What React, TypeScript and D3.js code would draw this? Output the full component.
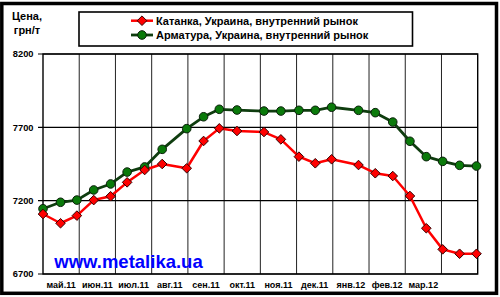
import React from "react";
import * as d3 from "d3";

const dates = [
  "2011-05-01", "2011-05-16", "2011-05-30", "2011-06-13", "2011-06-27",
  "2011-07-11", "2011-07-26", "2011-08-10", "2011-08-31", "2011-09-14",
  "2011-09-27", "2011-10-12", "2011-11-04", "2011-11-18", "2011-12-03",
  "2011-12-17", "2011-12-31", "2012-01-23", "2012-02-06", "2012-02-20",
  "2012-03-05", "2012-03-19", "2012-04-02", "2012-04-16", "2012-04-30",
];

const katanka = [
  7109, 7046, 7098, 7204, 7230, 7325, 7409, 7450, 7421, 7607, 7693, 7675, 7668,
  7618, 7500, 7455, 7482, 7443, 7387, 7368, 7232, 7012, 6868, 6838, 6838,
];

const armatura = [
  7145, 7189, 7204, 7273, 7314, 7395, 7430, 7550, 7691, 7772, 7823, 7818, 7811,
  7811, 7816, 7816, 7837, 7816, 7800, 7736, 7605, 7500, 7468, 7441, 7436,
];

const monthLabels = [
  "май.11", "июн.11", "июл.11", "авг.11", "сен.11", "окт.11",
  "ноя.11", "дек.11", "янв.12", "фев.12", "мар.12", "",
];

const yTicks = [6700, 7200, 7700, 8200];

const seriesNames = [
  "Катанка, Украина, внутренний рынок",
  "Арматура, Украина, внутренний рынок",
];

function monthPos(s: string): number {
  const [y, m, d] = s.split("-").map(Number);
  const dim = new Date(y, m, 0).getDate();
  return (y - 2011) * 12 + (m - 5) + (d - 1) / dim;
}

export default function App() {
  const W = 500, H = 297;
  const left = 43, right = 477.7, top = 54, bottom = 274;
  const x = d3.scaleLinear().domain([0, 12]).range([left, right]);
  const y = d3.scaleLinear().domain([6700, 8200]).range([bottom, top]);
  const xs = dates.map(monthPos);

  const line = d3
    .line<number>()
    .x((_, i) => x(xs[i]))
    .y((v) => y(v));

  const font = "Arial, 'Liberation Sans', sans-serif";
  const redLine = "#ff0000";
  const greenLine = "#0f3d0f";
  const greenFill = "#0a7a0a";

  const diamond = (cx: number, cy: number, r: number) =>
    `M${cx},${cy - r}L${cx + r},${cy}L${cx},${cy + r}L${cx - r},${cy}Z`;

  return (
    <svg
      width={W}
      height={H}
      style={{ position: "absolute", left: 0, top: 0, background: "#fff" }}
      fontFamily={font}
    >
      <rect x={0} y={0} width={W} height={H} fill="#fff" />
      {/* outer frame */}
      <rect x={1.8} y={3.5} width={494.7} height={289.8} fill="none" stroke="#000" strokeWidth={3.5} />

      {/* plot grid */}
      {d3.range(1, 12).map((i) => (
        <line key={"v" + i} x1={x(i)} x2={x(i)} y1={top} y2={bottom} stroke="#222" strokeWidth={1} />
      ))}
      {yTicks.map((t) => (
        <line key={"h" + t} x1={left - 5} x2={right} y1={y(t)} y2={y(t)} stroke="#000" strokeWidth={1.2} />
      ))}
      <rect x={left} y={top} width={right - left} height={bottom - top} fill="none" stroke="#000" strokeWidth={1.4} />

      {/* y labels */}
      {yTicks.map((t) => (
        <text key={"yl" + t} x={33.5} y={y(t)} dy="0.35em" textAnchor="end" fontSize={9.3} fontWeight="bold" fill="#000">
          {t}
        </text>
      ))}
      <text x={27} y={19.5} textAnchor="middle" fontSize={11} fontWeight="bold">Цена,</text>
      <text x={27} y={34} textAnchor="middle" fontSize={11} fontWeight="bold">грн/т</text>

      {/* x labels */}
      {monthLabels.map((m, i) => (
        <text key={"xl" + i} x={x(i + 0.5)} y={288} textAnchor="middle" fontSize={9} fontWeight="bold">
          {m}
        </text>
      ))}

      {/* watermark */}
      <text x={128.5} y={268} textAnchor="middle" fontSize={18.5} fontWeight="bold" fill="#0000ff">
        www.metalika.ua
      </text>

      {/* series */}
      <path d={line(armatura) || ""} fill="none" stroke={greenLine} strokeWidth={2.8} strokeLinejoin="round" />
      <path d={line(katanka) || ""} fill="none" stroke={redLine} strokeWidth={2.5} strokeLinejoin="round" />
      {armatura.map((v, i) => (
        <circle key={"g" + i} cx={x(xs[i])} cy={y(v)} r={4.3} fill={greenFill} stroke="#0a1f0a" strokeWidth={1} />
      ))}
      {katanka.map((v, i) => (
        <path key={"r" + i} d={diamond(x(xs[i]), y(v), 4.8)} fill="#ff0000" stroke="#300" strokeWidth={1} />
      ))}

      {/* legend */}
      <rect x={79} y={12} width={333.5} height={34} fill="#fff" stroke="#000" strokeWidth={1.6} />
      <line x1={131} x2={153} y1={20.7} y2={20.7} stroke={redLine} strokeWidth={2.5} />
      <path d={diamond(142, 20.7, 4.8)} fill="#ff0000" stroke="#300" strokeWidth={1} />
      <text x={156} y={20.7} dy="0.35em" fontSize={11} fontWeight="bold">{seriesNames[0]}</text>
      <line x1={131} x2={153} y1={35} y2={35} stroke={greenLine} strokeWidth={2.8} />
      <circle cx={142} cy={35} r={4.3} fill={greenFill} stroke="#0a1f0a" strokeWidth={1} />
      <text x={156} y={35} dy="0.35em" fontSize={11} fontWeight="bold">{seriesNames[1]}</text>
    </svg>
  );
}
